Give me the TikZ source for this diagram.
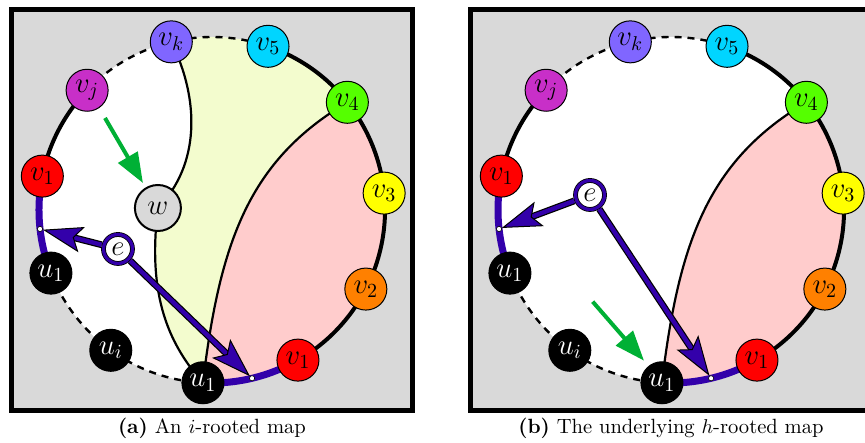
\documentclass[tikz,border=0pt]{standalone}
\usepackage{amsmath}
\usepackage{xcolor}
\usepackage{amssymb}
\usepackage{tikz}
\usetikzlibrary{shapes,arrows,arrows.meta,positioning,fit,backgrounds}

\definecolor{panelgray}{HTML}{D9D9D9}
\definecolor{mapyellow}{HTML}{F3FCCE}
\definecolor{mappink}{HTML}{FFCCCC}
\definecolor{rootblue}{HTML}{3300AA}
\definecolor{movegreen}{HTML}{00B035}
\definecolor{colk}{HTML}{8066FF}
\definecolor{colfive}{HTML}{00D5FF}
\definecolor{colfour}{HTML}{55FF00}
\definecolor{colthree}{HTML}{FFFF00}
\definecolor{coltwo}{HTML}{FF8000}
\definecolor{colone}{HTML}{FF0000}
\definecolor{colj}{HTML}{C82FC8}

\begin{document}
\begin{tikzpicture}[
  vert/.style={circle, draw, line width=0.5pt, minimum size=21pt, inner sep=0pt, font=\fontsize{14}{16}\selectfont},
  uvert/.style={vert, fill=black, text=white},
  wvert/.style={vert, fill=panelgray, line width=1pt, minimum size=23pt},
  evert/.style={circle, draw=black, double=rootblue, double distance=1.6pt, line width=0.4pt, fill=white, minimum size=14.5pt, inner sep=0pt, outer sep=1.2pt, font=\fontsize{14}{16}\selectfont},
  rootdot/.style={circle, draw=black, fill=white, line width=0.3pt, minimum size=2.6pt, inner sep=0pt},
  panel/.style={fill=panelgray, draw=black, line width=2.5pt},
  ring/.style={line width=2pt},
  dashring/.style={line width=1.2pt, dash pattern=on 3.5pt off 3pt},
  rootarc/.style={draw=rootblue, line width=3.5pt},
  region/.style={line width=1.1pt},
  earrow/.style={draw=rootblue, line width=2.2pt, -{Stealth[length=20pt, width=13pt, inset=4pt, color=black, fill=rootblue, line width=0.5pt]}, preaction={draw=black, line width=3.4pt, -, shorten >=12pt}},
  garrow/.style={draw=movegreen, line width=2pt, -{Triangle[length=15pt, width=11pt]}},
  caption/.style={font=\fontsize{10.3}{12}\selectfont}
]

\useasboundingbox (-3.725,-4.077) rectangle (11.475,3.69);

% (a) An i-rooted map
\node[vert, fill=colk] (vkA) at (103.6:3.04) {$v_k$};
\node[vert, fill=colfive] (v5A) at (71.1:3.04) {$v_5$};
\node[vert, fill=colfour] (v4A) at (38.5:3.04) {$v_4$};
\node[vert, fill=colthree] (v3A) at (5.6:3.04) {$v_3$};
\node[vert, fill=coltwo] (v2A) at (-27.2:3.04) {$v_2$};
\node[vert, fill=colone] (v1bA) at (-60.2:3.04) {$v_1$};
\node[uvert] (u1bA) at (-93:3.04) {$u_1$};
\node[uvert] (uiA) at (-125.8:3.04) {$u_i$};
\node[uvert] (u1lA) at (201.4:3.04) {$u_1$};
\node[vert, fill=colone] (v1lA) at (168.7:3.04) {$v_1$};
\node[vert, fill=colj] (vjA) at (136.2:3.04) {$v_j$};
\node[wvert] (wA) at (-0.95,0.035) {$w$};
\node[evert] (eA) at (-1.652,-0.685) {$e$};
\node[rootdot] (dlA) at (186.3:3.04) {};
\node[rootdot] (dbA) at (-76.6:3.04) {};
\coordinate (gsA) at (-1.88,1.617);
\coordinate (geA) at (-1.213,0.474);

\begin{scope}[on background layer]
\draw[panel] (-3.515,-3.515) rectangle (3.515,3.515);
\fill[white] (0,0) circle (3.04);
\fill[mappink] (u1bA.center) arc[start angle=-93, end angle=38.5, radius=3.04]
  .. controls (0.668,0.879) and (0.141,-0.527) .. (u1bA.center) -- cycle;
\fill[mapyellow] (v4A.center) arc[start angle=38.5, end angle=103.6, radius=3.04]
  .. controls (-0.211,1.933) and (-0.211,0.791) .. (wA.center)
  .. controls (-1.125,-1.406) and (-0.826,-2.285) .. (u1bA.center)
  .. controls (0.141,-0.527) and (0.668,0.879) .. (v4A.center) -- cycle;
\draw[region] (v4A.center) .. controls (0.668,0.879) and (0.141,-0.527) .. (u1bA.center);
\draw[region] (vkA.center) .. controls (-0.211,1.933) and (-0.211,0.791) .. (wA.center);
\draw[region] (wA.center) .. controls (-1.125,-1.406) and (-0.826,-2.285) .. (u1bA.center);
% outer face
\draw[ring] (v1lA.center) arc[start angle=168.7, end angle=136.2, radius=3.04];
\draw[dashring] (vjA.center) arc[start angle=136.2, end angle=71.1, radius=3.04];
\draw[ring] (v5A.center) arc[start angle=71.1, end angle=-60.2, radius=3.04];
\draw[dashring] (u1lA.center) arc[start angle=201.4, end angle=267, radius=3.04];
\draw[rootarc] (v1lA.center) arc[start angle=168.7, end angle=201.4, radius=3.04];
\draw[rootarc] (u1bA.center) arc[start angle=-93, end angle=-60.2, radius=3.04];
\end{scope}

\draw[earrow] (eA) -- (dlA);
\draw[earrow] (eA) -- (dbA);
\draw[garrow] (gsA) -- (geA);

\node[caption] (capA) at (0,-3.83) {\textbf{(a)} An $i$-rooted map};

% (b) The underlying h-rooted map
\begin{scope}[xshift=8.066cm]
\node[vert, fill=colk] (vkB) at (103.6:3.04) {$v_k$};
\node[vert, fill=colfive] (v5B) at (71.1:3.04) {$v_5$};
\node[vert, fill=colfour] (v4B) at (38.5:3.04) {$v_4$};
\node[vert, fill=colthree] (v3B) at (5.6:3.04) {$v_3$};
\node[vert, fill=coltwo] (v2B) at (-27.2:3.04) {$v_2$};
\node[vert, fill=colone] (v1bB) at (-60.2:3.04) {$v_1$};
\node[uvert] (u1bB) at (-93:3.04) {$u_1$};
\node[uvert] (uiB) at (-125.8:3.04) {$u_i$};
\node[uvert] (u1lB) at (201.4:3.04) {$u_1$};
\node[vert, fill=colone] (v1lB) at (168.7:3.04) {$v_1$};
\node[vert, fill=colj] (vjB) at (136.2:3.04) {$v_j$};
\node[evert] (eB) at (-1.423,0.264) {$e$};
\node[rootdot] (dlB) at (186.3:3.04) {};
\node[rootdot] (dbB) at (-76.6:3.04) {};
\coordinate (gsB) at (-1.376,-1.611);
\coordinate (geB) at (-0.474,-2.648);

\begin{scope}[on background layer]
\draw[panel] (-3.515,-3.515) rectangle (3.515,3.515);
\fill[white] (0,0) circle (3.04);
\fill[mappink] (u1bB.center) arc[start angle=-93, end angle=38.5, radius=3.04]
  .. controls (0.668,0.879) and (0.141,-0.527) .. (u1bB.center) -- cycle;
\draw[region] (v4B.center) .. controls (0.668,0.879) and (0.141,-0.527) .. (u1bB.center);
% outer face
\draw[ring] (v1lB.center) arc[start angle=168.7, end angle=136.2, radius=3.04];
\draw[dashring] (vjB.center) arc[start angle=136.2, end angle=71.1, radius=3.04];
\draw[ring] (v5B.center) arc[start angle=71.1, end angle=-60.2, radius=3.04];
\draw[dashring] (u1lB.center) arc[start angle=201.4, end angle=267, radius=3.04];
\draw[rootarc] (v1lB.center) arc[start angle=168.7, end angle=201.4, radius=3.04];
\draw[rootarc] (u1bB.center) arc[start angle=-93, end angle=-60.2, radius=3.04];
\end{scope}

\draw[earrow] (eB) -- (dlB);
\draw[earrow] (eB) -- (dbB);
\draw[garrow] (gsB) -- (geB);

\node[caption] (capB) at (0,-3.83) {\textbf{(b)} The underlying $h$-rooted map};
\end{scope}

\end{tikzpicture}
\end{document}
